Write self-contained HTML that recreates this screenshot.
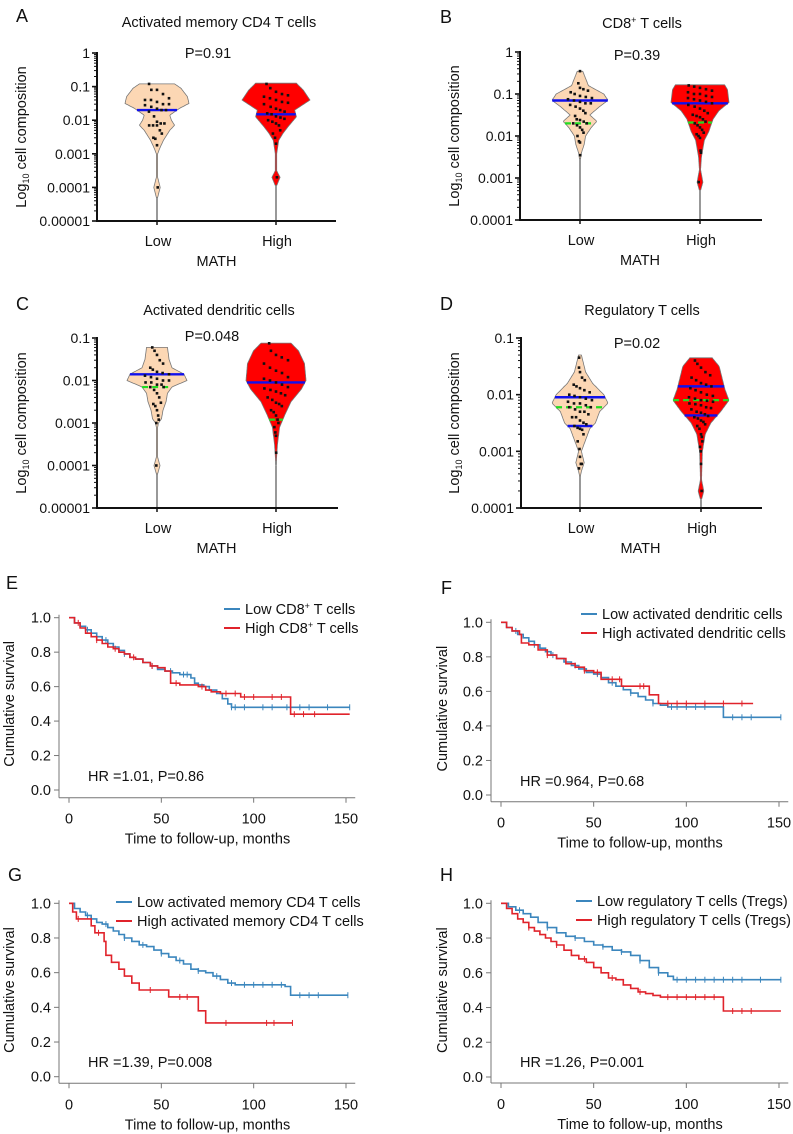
<!DOCTYPE html>
<html><head><meta charset="utf-8"><style>
html,body{margin:0;padding:0;background:#fff}
svg{display:block;font-family:"Liberation Sans",Arial,sans-serif}
</style></head><body>
<svg id="fig" width="793" height="1134" viewBox="0 0 793 1134" xmlns="http://www.w3.org/2000/svg"></svg>
<script>
// ---------- Violin data (log10 levels, relative widths) ----------
const groups = ["Low","High"];
const aLowProfile = [[-0.92,0.55],[-1.05,0.75],[-1.3,0.95],[-1.5,1.0],[-1.65,0.7],[-1.85,0.4],[-2.0,0.45],[-2.15,0.55],[-2.3,0.4],[-2.6,0.2],[-2.85,0.08],[-3.0,0.02],[-3.7,0.02],[-4.0,0.1],[-4.3,0.02]];
const aHighProfile = [[-0.9,0.6],[-1.1,0.8],[-1.4,1.0],[-1.7,0.55],[-1.9,0.6],[-2.2,0.35],[-2.4,0.2],[-2.6,0.08],[-2.8,0.05],[-3.0,0.02],[-3.5,0.02],[-3.7,0.12],[-3.95,0.02]];
const aLowPts = [0.12,0.08,0.08,0.06,0.045,0.04,0.04,0.035,0.03,0.03,0.028,0.025,0.022,0.02,0.02,0.018,0.013,0.009,0.008,0.008,0.007,0.007,0.007,0.005,0.004,0.003,0.0028,0.0018,0.0001];
const aHighPts = [0.12,0.09,0.07,0.06,0.055,0.05,0.045,0.04,0.035,0.033,0.03,0.025,0.022,0.02,0.018,0.016,0.015,0.013,0.012,0.011,0.01,0.009,0.008,0.007,0.005,0.004,0.003,0.002,0.0002];
const aMedians = [0.02,0.015];
const aQuartiles = [[],[]];

const bLowProfile = [[-0.46,0.1],[-0.8,0.3],[-1.0,0.85],[-1.15,1.0],[-1.3,0.7],[-1.5,0.35],[-1.65,0.6],[-1.8,0.4],[-2.0,0.2],[-2.2,0.15],[-2.4,0.05],[-2.55,0.02]];
const bHighProfile = [[-0.78,0.85],[-0.9,0.95],[-1.2,1.0],[-1.4,0.65],[-1.6,0.45],[-1.9,0.3],[-2.1,0.15],[-2.3,0.1],[-2.5,0.05],[-2.8,0.02],[-3.1,0.1],[-3.3,0.02]];
const bLowPts = [0.35,0.18,0.14,0.13,0.12,0.11,0.1,0.09,0.085,0.08,0.075,0.07,0.065,0.06,0.06,0.055,0.05,0.045,0.04,0.035,0.03,0.025,0.024,0.022,0.02,0.02,0.018,0.016,0.014,0.012,0.01,0.0075,0.007,0.0035];
const bHighPts = [0.16,0.15,0.14,0.13,0.12,0.11,0.1,0.1,0.09,0.085,0.08,0.075,0.07,0.065,0.06,0.055,0.05,0.045,0.04,0.035,0.032,0.03,0.028,0.025,0.022,0.02,0.018,0.016,0.014,0.012,0.011,0.01,0.009,0.0045,0.004,0.0008];
const bMedians = [0.07,0.06];
const bQuartiles = [[0.02],[0.021]];

const cLowProfile = [[-1.22,0.35],[-1.5,0.4],[-1.7,0.5],[-1.85,0.9],[-2.0,1.0],[-2.15,0.5],[-2.3,0.35],[-2.5,0.3],[-2.7,0.2],[-2.9,0.15],[-3.0,0.05],[-3.1,0.02],[-3.8,0.02],[-4.0,0.1],[-4.2,0.02]];
const cHighProfile = [[-1.12,0.5],[-1.3,0.75],[-1.6,0.95],[-2.0,1.0],[-2.2,0.85],[-2.5,0.5],[-2.8,0.3],[-3.1,0.12],[-3.5,0.05],[-3.8,0.02],[-4.0,0.01]];
const cLowPts = [0.06,0.05,0.04,0.03,0.025,0.02,0.018,0.016,0.015,0.014,0.013,0.012,0.011,0.01,0.01,0.009,0.009,0.008,0.008,0.007,0.007,0.006,0.005,0.004,0.003,0.0028,0.0025,0.002,0.0015,0.0012,0.001,0.0001];
const cHighPts = [0.075,0.05,0.04,0.035,0.03,0.025,0.02,0.017,0.015,0.012,0.011,0.01,0.009,0.008,0.007,0.0065,0.006,0.0055,0.005,0.0045,0.004,0.0035,0.003,0.0028,0.0025,0.002,0.0018,0.0015,0.0012,0.001,0.0008,0.0006,0.0005,0.0002];
const cMedians = [0.014,0.009];
const cQuartiles = [[0.007],[0.0012]];

const dLowProfile = [[-1.3,0.05],[-1.6,0.2],[-1.8,0.45],[-2.0,0.85],[-2.15,1.0],[-2.3,0.7],[-2.5,0.55],[-2.6,0.35],[-2.8,0.2],[-3.0,0.05],[-3.2,0.15],[-3.35,0.05],[-3.45,0.01]];
const dHighProfile = [[-1.35,0.4],[-1.5,0.65],[-1.7,0.75],[-1.9,0.85],[-2.1,1.0],[-2.3,0.7],[-2.5,0.35],[-2.7,0.15],[-3.0,0.05],[-3.3,0.03],[-3.5,0.02],[-3.7,0.1],[-3.85,0.02]];
const dLowPts = [0.045,0.03,0.025,0.02,0.018,0.015,0.014,0.013,0.012,0.011,0.01,0.0095,0.009,0.0085,0.008,0.0075,0.007,0.007,0.0065,0.006,0.006,0.0055,0.005,0.005,0.0045,0.004,0.004,0.0035,0.0032,0.003,0.0028,0.0026,0.0025,0.0024,0.002,0.0015,0.0011,0.0008,0.0006,0.0006,0.0005];
const dHighPts = [0.04,0.035,0.03,0.025,0.022,0.02,0.018,0.016,0.015,0.014,0.013,0.012,0.011,0.01,0.0095,0.009,0.0085,0.008,0.0078,0.0075,0.007,0.0068,0.0065,0.006,0.0058,0.0055,0.005,0.0048,0.0045,0.0042,0.004,0.0038,0.0035,0.0033,0.003,0.0028,0.0025,0.002,0.0018,0.0015,0.0012,0.001,0.0006,0.0002];
const dMedians = [0.009,0.014];
const dQuartiles = [[0.006,0.0028],[0.008,0.0043]];

// ---------- KM data ----------
const eLowT=[0,3,6,9,12,15,18,21,24,27,30,33,36,40,44,48,52,56,60,63,66,68,70,73,76,80,83,86,88,152];
const eLowS=[1,.97,.95,.93,.91,.89,.87,.85,.83,.81,.79,.77,.76,.74,.72,.70,.69,.68,.67,.67,.65,.62,.61,.60,.58,.56,.53,.50,.48,.48];
const eHighT=[0,3,6,9,12,15,18,21,24,27,30,33,36,40,44,48,52,55,60,65,70,74,77,82,93,118,120,152];
const eHighS=[1,.97,.94,.91,.89,.87,.85,.83,.82,.80,.79,.77,.76,.74,.72,.71,.69,.62,.61,.61,.60,.58,.57,.56,.54,.54,.44,.44];
const fLowT=[0,3,6,9,12,15,18,21,24,27,30,34,38,42,46,50,54,58,62,66,70,74,78,82,86,90,118,120,151];
const fLowS=[1,.97,.95,.93,.91,.89,.87,.85,.83,.81,.79,.77,.75,.73,.71,.70,.68,.65,.63,.61,.59,.57,.55,.53,.52,.51,.51,.45,.45];
const fHighT=[0,3,6,10,11,15,20,25,30,35,40,45,50,54,65,80,85,136];
const fHighS=[1,.97,.95,.93,.88,.87,.84,.81,.79,.76,.74,.72,.71,.67,.63,.58,.53,.53];
const gLowT=[0,3,6,9,12,15,18,21,24,27,30,34,38,42,46,50,54,58,62,66,70,74,78,82,86,90,117,120,151];
const gLowS=[1,.97,.95,.93,.91,.89,.88,.86,.84,.82,.80,.78,.76,.75,.73,.71,.69,.67,.65,.62,.61,.60,.58,.56,.54,.53,.52,.47,.47];
const gHighT=[0,2,4,12,14,19,20,23,27,30,34,38,54,70,74,121];
const gHighS=[1,0.95,0.91,0.87,0.83,0.78,0.70,0.66,0.62,0.58,0.54,0.50,0.46,0.38,0.31,0.31];
const hLowT=[0,4,8,12,16,20,25,30,35,40,45,50,55,60,65,70,75,80,85,90,93,151];
const hLowS=[1,.98,.96,.94,.92,.89,.86,.83,.81,.80,.78,.76,.75,.73,.72,.70,.67,.63,.60,.58,.56,.56];
const hHighT=[0,3,6,9,12,15,18,21,24,27,30,34,38,42,46,50,54,58,62,66,70,74,78,82,86,118,120,151];
const hHighS=[1,.97,.94,.91,.89,.86,.84,.82,.80,.78,.76,.73,.70,.68,.66,.63,.60,.57,.56,.53,.51,.49,.48,.47,.46,.46,.38,.38];
const eLowCens=[10,20,30,45,55,62,64,88,90,95,105,110,118,125,130,140,152], eHighCens=[5,15,25,35,45,58,72,85,90,95,100,110,115,122,127,133];
const fLowCens=[8,18,28,40,52,60,70,82,92,95,100,105,110,125,130,135,151], fHighCens=[25,45,52,60,64,75,77,90,95,100,110,120,130];
const gLowCens=[10,20,30,40,50,60,70,80,88,95,100,105,110,115,125,130,135,151], gHighCens=[5,16,44,60,64,85,107,111,121];
const hLowCens=[10,25,40,55,65,75,85,95,100,105,110,115,120,125,130,140,151], hHighCens=[15,30,45,60,75,90,95,100,105,110,115,125,130,135];
const kmXTicks=[0,50,100,150];
const kmYTicks=[0,0.2,0.4,0.6,0.8,1.0];

const NS="http://www.w3.org/2000/svg";
const svg=document.getElementById('fig');
function mk(tag,attrs,parent){const e=document.createElementNS(NS,tag);for(const k in attrs)e.setAttribute(k,attrs[k]);(parent||svg).appendChild(e);return e;}
function txt(x,y,s,size,anchor,parent,extra){const t=mk('text',Object.assign({x:x,y:y,'font-size':size,'text-anchor':anchor||'start',fill:'#111'},extra||{}),parent);t.textContent=s;return t;}

function interpW(prof,l){ if(l>prof[0][0]||l<prof[prof.length-1][0])return 0;
  for(let i=0;i<prof.length-1;i++){const a=prof[i],b=prof[i+1];if(l<=a[0]&&l>=b[0]){const f=(a[0]-l)/(a[0]-b[0]);return a[1]+(b[1]-a[1])*f;}} return 0;}

function violinPanel(o){
  const g=mk('g',{});
  
  
  const yS=v=>o.y1+(o.top-Math.log10(v))/(o.top-o.bottom)*(o.y0-o.y1);
  const yL=l=>o.y1+(o.top-l)/(o.top-o.bottom)*(o.y0-o.y1);
  const lt=txt(o.letterX,o.letterY,o.letter,18,'start',g);
  const tt=txt(o.titleX,o.titleY,'',14.5,'middle',g);tt.innerHTML=o.title;
  const pt=txt(o.pX,o.pY,o.p,14.5,'middle',g);
  o.groups.forEach((gr,gi)=>{
    const cx=o.cx[gi], prof=o.profiles[gi], hw=o.hw[gi];
    const stem=mk('line',{x1:cx,x2:cx,y1:yL(prof[0][0]),y2:o.y0,stroke:'#555','stroke-width':1.2},g);
    
    let right=[],left=[];
    const topL=prof[0][0],botL=prof[prof.length-1][0];
    for(let l=topL;l>=botL-1e-9;l-=0.02){const w=interpW(prof,l)*hw;right.push([cx+w,yL(l)]);left.unshift([cx-w,yL(l)]);}
    const pts=right.concat(left).map(p=>p[0].toFixed(1)+','+p[1].toFixed(1)).join(' ');
    const v=mk('polygon',{points:pts,fill:o.fills[gi],stroke:'#777','stroke-width':0.8,'stroke-linejoin':'round'},g);
    
    o.quart[gi].forEach(q=>{const w=interpW(prof,Math.log10(q))*hw;
      const ql=mk('line',{x1:cx-w,x2:cx+w,y1:yS(q),y2:yS(q),stroke:'#22dd22','stroke-width':2.2,'stroke-dasharray':'6,4'},g);
      });
    if(o.blueQuart){o.blueQuart[gi].forEach(q=>{const w=interpW(prof,Math.log10(q))*hw;
      const bl=mk('line',{x1:cx-w,x2:cx+w,y1:yS(q),y2:yS(q),stroke:'#1010ee','stroke-width':2.4},g);
      });}
    else{const m=o.med[gi];const w=interpW(prof,Math.log10(m))*hw;
      const ml=mk('line',{x1:cx-w,x2:cx+w,y1:yS(m),y2:yS(m),stroke:'#1010ee','stroke-width':2.4},g);
      }
    o.pts[gi].forEach((val,i)=>{const l=Math.log10(val);const w=Math.min(interpW(prof,l)*hw*0.45,12);
      const off=((i%5)-2)/2*w;
      const d=mk('rect',{x:cx+off-1.3,y:yS(val)-1.3,width:2.6,height:2.6,fill:'#111'},g);
      });
  });
  const ax=mk('line',{x1:o.ax,x2:o.ax,y1:o.y1-1,y2:o.y0+1,stroke:'#111','stroke-width':2},g);
  
  const bx=mk('line',{x1:o.ax-1,x2:o.xr,y1:o.y0,y2:o.y0,stroke:'#111','stroke-width':2},g);
  
  for(let d=o.bottom;d<=o.top;d++){
    const y=yL(d);
    mk('line',{x1:o.ax-5,x2:o.ax,y1:y,y2:y,stroke:'#111','stroke-width':1.6},g);
    const lab=txt(o.ax-7,y+5,o.tickLabels[d-o.bottom],14,'end',g);
    
    if(d<o.top)for(let k=2;k<10;k++){const yy=yL(d+Math.log10(k));mk('line',{x1:o.ax-3,x2:o.ax,y1:yy,y2:yy,stroke:'#111','stroke-width':1},g);}
  }
  o.groups.forEach((gr,gi)=>{mk('line',{x1:o.cx[gi],x2:o.cx[gi],y1:o.y0,y2:o.y0+4,stroke:'#111','stroke-width':1.5},g);
    const l=txt(o.cx[gi]+1,o.y0+25,gr,14.5,'middle',g);});
  const xt=txt((o.cx[0]+o.cx[1])/2,o.y0+45,'MATH',14.5,'middle',g);
  const yt=mk('text',{x:0,y:0,'font-size':14.5,'text-anchor':'middle',fill:'#111',transform:`translate(${o.ylabX},${(o.y0+o.y1)/2}) rotate(-90)`},g);
  yt.innerHTML='Log<tspan font-size="9" dy="3">10</tspan><tspan dy="-3"> cell composition</tspan>';
  
}
const lab5=['0.00001','0.0001','0.001','0.01','0.1','1'];
violinPanel({name:'panel-a',letter:'A',letterX:16,letterY:22,title:'Activated memory CD4 T cells',titleX:219,titleY:27,p:'P=0.91',pX:208,pY:58,
 ax:97,xr:336,y1:53,y0:221,top:0,bottom:-5,tickLabels:lab5,cx:[157,276],hw:[32,34],groups:groups,
 profiles:[aLowProfile,aHighProfile],pts:[aLowPts,aHighPts],med:aMedians,quart:aQuartiles,fills:['#fcd7b4','#ff0000'],ylabX:26});
violinPanel({name:'panel-b',letter:'B',letterX:440,letterY:23,title:'CD8<tspan font-size="9" dy="-5">+</tspan><tspan dy="5"> T cells</tspan>',titleX:642,titleY:28,p:'P=0.39',pX:637,pY:60,
 ax:520,xr:762,y1:52,y0:220,top:0,bottom:-4,tickLabels:lab5.slice(1),cx:[580,700],hw:[28,29],groups:groups,
 profiles:[bLowProfile,bHighProfile],pts:[bLowPts,bHighPts],med:bMedians,quart:bQuartiles,fills:['#fcd7b4','#ff0000'],ylabX:459});
violinPanel({name:'panel-c',letter:'C',letterX:16,letterY:310,title:'Activated dendritic cells',titleX:219,titleY:315,p:'P=0.048',pX:212,pY:341,
 ax:97,xr:338,y1:338,y0:508,top:-1,bottom:-5,tickLabels:lab5.slice(0,5),cx:[157,276],hw:[30,30],groups:groups,
 profiles:[cLowProfile,cHighProfile],pts:[cLowPts,cHighPts],med:cMedians,quart:cQuartiles,fills:['#fcd7b4','#ff0000'],ylabX:26});
violinPanel({name:'panel-d',letter:'D',letterX:440,letterY:310,title:'Regulatory T cells',titleX:642,titleY:315,p:'P=0.02',pX:637,pY:348,
 ax:521,xr:762,y1:338,y0:508,top:-1,bottom:-4,tickLabels:lab5.slice(1,5),cx:[580,701],hw:[28,28],groups:groups,
 profiles:[dLowProfile,dHighProfile],pts:[dLowPts,dHighPts],med:dMedians,quart:[[dQuartiles[0][0]],[dQuartiles[1][0]]],blueQuart:[[dMedians[0],dQuartiles[0][1]],[dMedians[1],dQuartiles[1][1]]],fills:['#fcd7b4','#ff0000'],ylabX:459});

function kmPanel(o){
  const g=mk('g',{});
  
  
  const xS=t=>o.x0+t/150*(o.x150-o.x0);
  const yS=s=>o.y0+s*(o.y1-o.y0);
  const lt=txt(o.letterX,o.letterY,o.letter,18,'start',g);
  const ax=mk('line',{x1:o.axL,x2:o.axL,y1:yS(1)-3,y2:o.axB,stroke:'#777','stroke-width':1},g);
  
  const bx=mk('line',{x1:o.axL,x2:xS(155),y1:o.axB,y2:o.axB,stroke:'#777','stroke-width':1},g);
  
  kmYTicks.forEach(v=>{mk('line',{x1:o.axL-5,x2:o.axL,y1:yS(v),y2:yS(v),stroke:'#777'},g);
    const l=txt(o.axL-8,yS(v)+5,v.toFixed(1),14.5,'end',g);});
  kmXTicks.forEach(v=>{mk('line',{x1:xS(v),x2:xS(v),y1:o.axB,y2:o.axB+5,stroke:'#777'},g);
    const l=txt(xS(v),o.axB+26,String(v),14.5,'middle',g);});
  const xt=txt((o.x0+o.x150)/2,o.axB+46,'Time to follow-up, months',14.5,'middle',g);
  const yt=mk('text',{x:0,y:0,'font-size':14.5,'text-anchor':'middle',fill:'#111',transform:`translate(${o.ylabX},${(yS(0)+yS(1))/2}) rotate(-90)`},g);
  yt.textContent='Cumulative survival';
  const colors=['#3b86bd','#e0232b'];
  o.series.forEach((s,si)=>{
    let d='M'+xS(s.t[0])+','+yS(s.s[0]);
    for(let i=1;i<s.t.length;i++){d+=' H'+xS(s.t[i]).toFixed(1)+' V'+yS(s.s[i]).toFixed(1);}
    const p=mk('path',{d:d,fill:'none',stroke:colors[si],'stroke-width':1.6},g);
    
    s.c.forEach(t=>{let sv=s.s[0];for(let i=0;i<s.t.length;i++)if(s.t[i]<=t)sv=s.s[i];
      const c=mk('line',{x1:xS(t),x2:xS(t),y1:yS(sv)-3,y2:yS(sv)+3,stroke:colors[si],'stroke-width':1},g);
      });
  });
  o.legend.forEach((lab,i)=>{const y=o.legY+i*19;
    const li=mk('line',{x1:o.legX,x2:o.legX+16,y1:y-5,y2:y-5,stroke:colors[i],'stroke-width':2},g);
    
    const t=txt(o.legX+21,y,'',14.5,'start',g);t.innerHTML=lab;});
  const hr=txt(o.hrX,o.hrY,o.hr,14.5,'start',g);
}
const sup='<tspan font-size="9" dy="-5">+</tspan><tspan dy="5">';
kmPanel({name:'panel-e',letter:'E',letterX:6,letterY:589,x0:69,x150:346,y1:617.7,y0:790,axL:59,axB:797.7,ylabX:14,
 series:[{t:eLowT,s:eLowS,c:eLowCens},{t:eHighT,s:eHighS,c:eHighCens}],
 legend:['Low CD8'+sup+' T cells</tspan>','High CD8'+sup+' T cells</tspan>'],legX:224,legY:614,hr:'HR =1.01, P=0.86',hrX:88,hrY:781});
kmPanel({name:'panel-f',letter:'F',letterX:441,letterY:594,x0:501,x150:779,y1:622.3,y0:795,axL:491,axB:801.7,ylabX:447,
 series:[{t:fLowT,s:fLowS,c:fLowCens},{t:fHighT,s:fHighS,c:fHighCens}],
 legend:['Low activated dendritic cells','High activated dendritic cells'],legX:581,legY:619,hr:'HR =0.964, P=0.68',hrX:520,hrY:786});
kmPanel({name:'panel-g',letter:'G',letterX:8,letterY:881,x0:69,x150:346,y1:903.3,y0:1076.7,axL:59,axB:1083.3,ylabX:14,
 series:[{t:gLowT,s:gLowS,c:gLowCens},{t:gHighT,s:gHighS,c:gHighCens}],
 legend:['Low activated memory CD4 T cells','High activated memory CD4 T cells'],legX:116,legY:907,hr:'HR =1.39, P=0.008',hrX:88,hrY:1067});
kmPanel({name:'panel-h',letter:'H',letterX:440,letterY:881,x0:501,x150:779,y1:903.3,y0:1077,axL:491,axB:1083,ylabX:447,
 series:[{t:hLowT,s:hLowS,c:hLowCens},{t:hHighT,s:hHighS,c:hHighCens}],
 legend:['Low regulatory T cells (Tregs)','High regulatory T cells (Tregs)'],legX:576,legY:906,hr:'HR =1.26, P=0.001',hrX:520,hrY:1067});
</script>
</body></html>
